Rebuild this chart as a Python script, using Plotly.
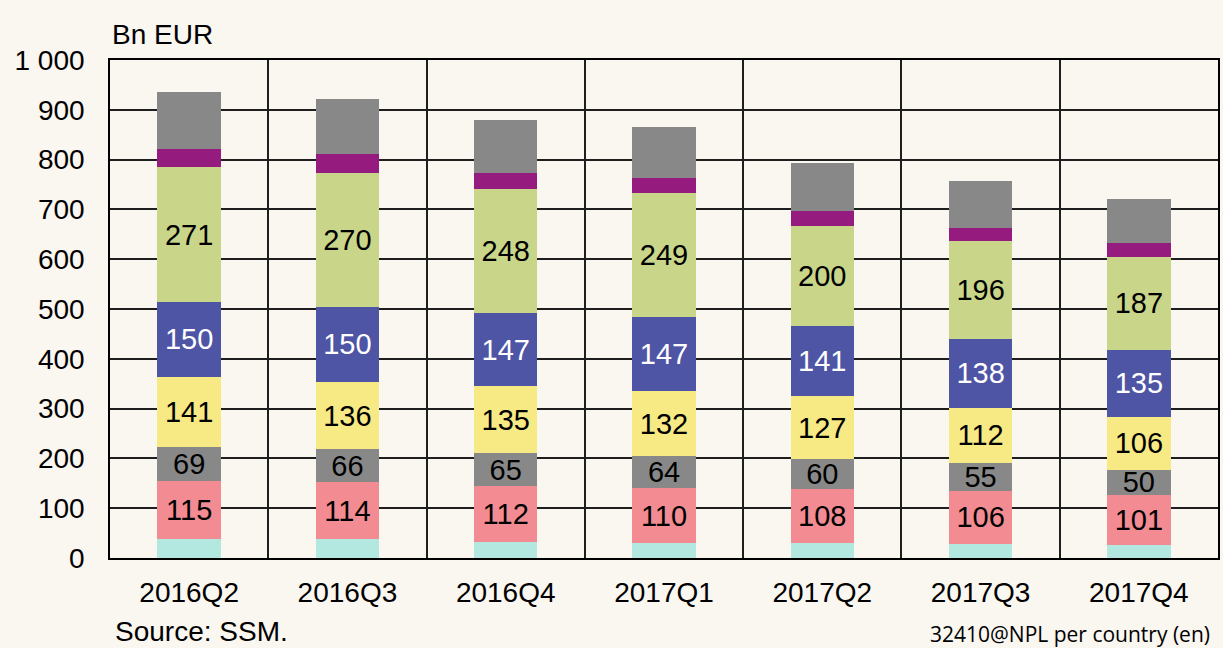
import plotly.graph_objects as go

categories = ["2016Q2", "2016Q3", "2016Q4", "2017Q1", "2017Q2", "2017Q3", "2017Q4"]

teal_vals = [39, 38, 33, 30, 30, 29, 26]
pink_vals = [115, 114, 112, 110, 108, 106, 101]
gray_vals = [69, 66, 65, 64, 60, 55, 50]
yellow_vals = [141, 136, 135, 132, 127, 112, 106]
blue_vals = [150, 150, 147, 147, 141, 138, 135]
green_vals = [271, 270, 248, 249, 200, 196, 187]
purple_vals = [37, 37, 34, 32, 30, 26, 27]
topgray_vals = [114, 110, 106, 101, 98, 96, 88]

y_tickvals = [0, 100, 200, 300, 400, 500, 600, 700, 800, 900, 1000]
y_ticktext = ["0", "100", "200", "300", "400", "500", "600", "700", "800", "900", "1 000"]

series = [
    ("teal", teal_vals, "#B3E8E1", False, "black"),
    ("pink", pink_vals, "#F28C92", True, "black"),
    ("gray", gray_vals, "#888888", True, "black"),
    ("yellow", yellow_vals, "#F7EA85", True, "black"),
    ("blue", blue_vals, "#4E55A4", True, "white"),
    ("green", green_vals, "#C9D689", True, "black"),
    ("purple", purple_vals, "#951B7E", False, "black"),
    ("topgray", topgray_vals, "#888888", False, "black"),
]

FONT = "Liberation Sans, Arial, sans-serif"
BG = "#FAF6F0"

fig = go.Figure()
for name, vals, color, labeled, tcolor in series:
    fig.add_trace(go.Bar(
        x=categories, y=vals, name=name,
        marker=dict(color=color, line=dict(width=0)),
        width=0.4,
        text=[str(v) for v in vals] if labeled else None,
        textposition="inside" if labeled else "none",
        insidetextanchor="middle",
        textangle=0,
        textfont=dict(family=FONT, size=29, color=tcolor),
        hoverinfo="skip",
    ))

fig.update_layout(
    barmode="stack",
    width=1223, height=648,
    paper_bgcolor=BG, plot_bgcolor=BG,
    margin=dict(l=110, r=3, t=60, b=90),
    showlegend=False,
    uniformtext=dict(minsize=29, mode="show"),
    font=dict(family=FONT, size=28, color="black"),
)

fig.update_xaxes(
    type="category",
    tickson="boundaries",
    showgrid=True, gridcolor="#1e1e1e", gridwidth=1.6,
    showline=True, linecolor="black", linewidth=2.2, mirror=True,
    ticks="", ticklabelstandoff=8,
    tickfont=dict(family=FONT, size=28, color="black"),
    range=[-0.5, 6.5],
)
fig.update_yaxes(
    range=[0, 1000],
    tickvals=y_tickvals, ticktext=y_ticktext,
    showgrid=True, gridcolor="#1e1e1e", gridwidth=1.6,
    showline=True, linecolor="black", linewidth=1.6, mirror=True,
    ticks="", ticklabelstandoff=18,
    tickfont=dict(family=FONT, size=28, color="black"),
    zeroline=False,
)

fig.add_annotation(text="Bn EUR", xref="paper", yref="paper", x=0, y=1,
                   xanchor="left", yanchor="bottom", yshift=8, showarrow=False,
                   font=dict(family=FONT, size=28, color="black"))
fig.add_annotation(text="Source: SSM.", xref="paper", yref="paper", x=0, y=0,
                   xanchor="left", yanchor="top", xshift=3, yshift=-56, showarrow=False,
                   font=dict(family=FONT, size=28, color="black"))
fig.add_annotation(text="32410@NPL per country (en)", xref="paper", yref="paper", x=1, y=0,
                   xanchor="right", yanchor="top", xshift=-6, yshift=-60, showarrow=False,
                   font=dict(family="Open Sans, Noto Sans, sans-serif", size=21, color="black"))

fig.write_html("out.html", config={"displayModeBar": False},
               post_script="document.body.style.margin='0';")
